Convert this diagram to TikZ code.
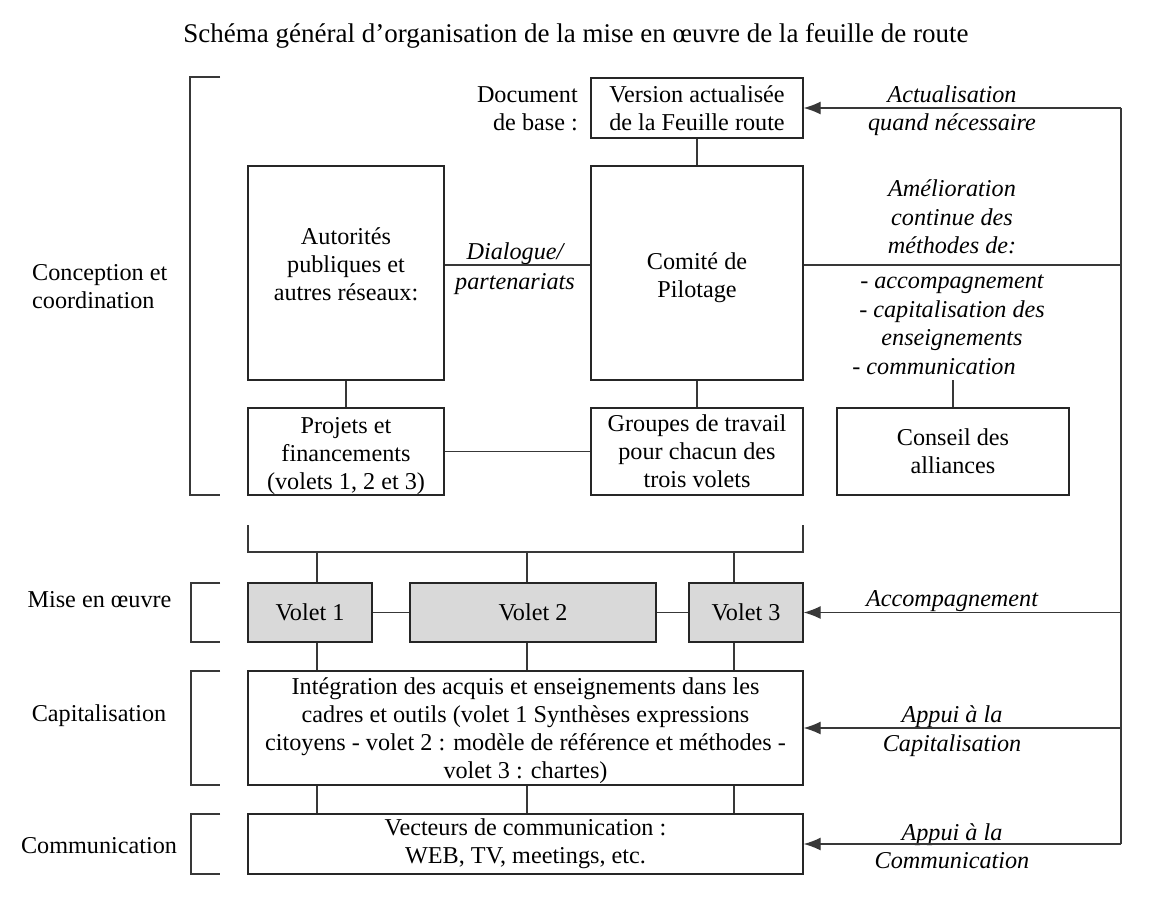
\documentclass[tikz,border=0pt]{standalone}
\usepackage{fontspec}
\setmainfont{Liberation Serif}
\usetikzlibrary{arrows.meta,calc}
\begin{document}
\begin{tikzpicture}[x=1pt,y=-1pt,
  every node/.style={font=\fontsize{24.2}{28}\selectfont, inner sep=0pt},
  ln/.style={draw=black!78, line width=1.3pt},
  arr/.style={ln, -{Latex[length=17pt,width=13pt]}},
  box/.style={draw=black!85, line width=1.3pt, align=center, inner sep=0pt},
  gbox/.style={box, fill=black!15},
  lab/.style={align=center, font=\fontsize{24.2}{28.5}\selectfont\itshape},
  side/.style={align=center}
]
\fill[white] (0,0) rectangle (1155,904);
\useasboundingbox (0,0) rectangle (1155,904);

% title
\node[font=\fontsize{27}{32}\selectfont] (title) at (576,36) {Schéma général d’organisation de la mise en œuvre de la feuille de route};

% left labels
\node[anchor=west, align=left] (lconc) at (32,286.5) {Conception et\\coordination};
\node[side] (lmise) at (99.5,600) {Mise en œuvre};
\node[side] (lcap) at (99,716) {Capitalisation};
\node[side] (lcomm) at (99,846) {Communication};

% brackets
\draw[ln] (220,77) -- (190,77) -- (190,495) -- (220,495);
\draw[ln] (220,583) -- (191,583) -- (191,642) -- (220,642);
\draw[ln] (220,671) -- (191,671) -- (191,785) -- (220,785);
\draw[ln] (220,814) -- (191,814) -- (191,874) -- (220,874);

% document de base
\node[anchor=east, align=right] (doc) at (578,109) {Document\\de base :};

% boxes
\node[box, minimum width=212pt, minimum height=60pt] (ver) at (697,108) {Version actualisée\\de la Feuille route};
\node[box, minimum width=196pt, minimum height=214pt] (aut) at (346,273) {};
\node[align=center] (autt) at (346,264) {Autorités\\publiques et\\autres réseaux:};
\node[box, minimum width=212pt, minimum height=214pt] (com) at (697,273) {};
\node[align=center] (comt) at (697,278) {Comité de\\Pilotage};
\node[box, minimum width=196pt, minimum height=87pt] (proj) at (346,451.5) {};
\node[align=center] (projt) at (346,456) {Projets et\\financements\\(volets 1, 2 et 3)};
\node[box, minimum width=212pt, minimum height=87pt] (grp) at (697,451.5) {Groupes de travail\\pour chacun des\\trois volets};
\node[box, minimum width=232pt, minimum height=87pt] (cons) at (953,451.5) {Conseil des\\alliances};

\node[gbox, minimum width=124pt, minimum height=59pt] (v1) at (310,612.5) {Volet 1};
\node[gbox, minimum width=246pt, minimum height=59pt] (v2) at (533,612.5) {Volet 2};
\node[gbox, minimum width=114pt, minimum height=59pt] (v3) at (746,612.5) {Volet 3};

\node[box, minimum width=555pt, minimum height=114pt] (integ) at (525.5,728) {};
\node[align=center] (integt) at (525.5,731) {Intégration des acquis et enseignements dans les\\cadres et outils (volet 1 Synthèses expressions\\citoyens - volet 2 : modèle de référence et méthodes -\\volet 3 : chartes)};
\node[box, minimum width=555pt, minimum height=60pt] (vect) at (525.5,844) {Vecteurs de communication :\\WEB, TV, meetings, etc.};

% italic labels
\node[lab] (dial1) at (515,254) {Dialogue/};
\node[lab] (dial2) at (515,284) {partenariats};
\node[lab] (act1) at (952,94) {Actualisation};
\node[lab] (act2) at (952,125) {quand nécessaire};
\node[lab] (amel) at (952,217) {Amélioration\\continue des\\méthodes de:};
\node[lab] (meth) at (952,325) {- accompagnement\\- capitalisation des\\enseignements\\- communication\hspace*{36pt}};
\node[lab] (acc) at (952,601) {Accompagnement};
\node[lab] (capl) at (952,731) {Appui à la\\Capitalisation};
\node[lab] (coml) at (952,846) {Appui à la\\Communication};

% connectors upper part
\draw[ln] (ver) -- (com);
\draw[ln] ([yshift=8pt]aut.east) -- ([yshift=8pt]com.west);
\draw[ln] (aut) -- (proj);
\draw[ln] (com) -- (grp);
\draw[ln] (proj) -- (grp);
\coordinate (cc) at (953,380);
\draw[ln] (cc) -- (cons.north);

% right feedback line
\coordinate (rt) at (1121,108);
\coordinate (rb) at (1121,844);
\draw[ln] (rt) -- (rb);
\draw[arr] (rt) -- (ver.east);
\draw[ln] ([yshift=8pt]com.east) -- ([yshift=8pt]com.east -| rt);
\draw[arr] (v3.east -| rt) -- (v3.east);
\draw[arr] (integ.east -| rt) -- (integ.east);
\draw[arr] (rb) -- (vect.east);

% hub bracket to volets
\coordinate (hl) at (248,525);
\coordinate (hr) at (803,525);
\coordinate (da) at (317,552);
\coordinate (db) at (527,552);
\coordinate (dc) at (734,552);
\draw[ln] (hl) -- (hl |- da) -- (hr |- da) -- (hr);
\draw[ln] (da) -- (da |- v1.north);
\draw[ln] (db) -- (db |- v2.north);
\draw[ln] (dc) -- (dc |- v3.north);

% volets links
\draw[ln] (v1) -- (v2);
\draw[ln] (v2) -- (v3);

% volets to integration
\draw[ln] (da |- v1.south) -- (da |- integ.north);
\draw[ln] (db |- v2.south) -- (db |- integ.north);
\draw[ln] (dc |- v3.south) -- (dc |- integ.north);

% integration to vecteurs
\draw[ln] (da |- integ.south) -- (da |- vect.north);
\draw[ln] (db |- integ.south) -- (db |- vect.north);
\draw[ln] (dc |- integ.south) -- (dc |- vect.north);
\end{tikzpicture}
\end{document}
